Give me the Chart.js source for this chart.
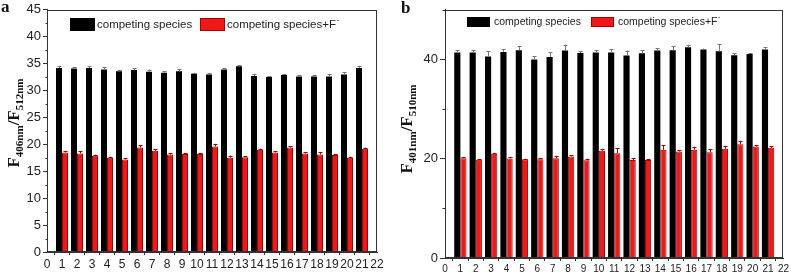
<!DOCTYPE html>
<html>
<head>
<meta charset="utf-8">
<script src="https://cdn.jsdelivr.net/npm/chart.js@4.4.0/dist/chart.umd.min.js"></script>
<style>
  html, body { margin: 0; padding: 0; background: #fff; }
  #wrap { position: relative; width: 791px; height: 275px; }
  canvas { position: absolute; top: 0; }
  #chartA { left: 0; }
  #chartB { left: 390px; }
</style>
</head>
<body>
<div id="wrap">
  <canvas id="chartA" width="390" height="275"></canvas>
  <canvas id="chartB" width="401" height="275"></canvas>
</div>
<script>
const species = [1, 2, 3, 4, 5, 6, 7, 8, 9, 10, 11, 12, 13, 14, 15, 16, 17, 18, 19, 20, 21];
const seriesLabels = ['competing species', 'competing species+F⁻'];

// panel a: F406nm/F512nm
const aSpecies = [34.2, 34.1, 34.2, 33.9, 33.6, 33.8, 33.5, 33.3, 33.6, 33.1, 33.0, 33.9, 34.5, 32.7, 32.5, 32.9, 32.6, 32.6, 32.6, 33.0, 34.2];
const aSpeciesErr = [0.4, 0.3, 0.3, 0.4, 0.2, 0.3, 0.4, 0.3, 0.4, 0.2, 0.2, 0.3, 0.2, 0.4, 0.2, 0.2, 0.3, 0.3, 0.4, 0.4, 0.4];
const aWithF = [18.5, 18.3, 17.9, 17.5, 17.2, 19.4, 18.8, 18.1, 18.2, 18.2, 19.6, 17.5, 17.6, 19.0, 18.5, 19.4, 18.3, 18.1, 18.0, 17.5, 19.2];
const aWithFErr = [0.3, 0.4, 0.2, 0.2, 0.2, 0.4, 0.3, 0.3, 0.2, 0.2, 0.5, 0.4, 0.2, 0.2, 0.2, 0.3, 0.3, 0.4, 0.2, 0.2, 0.2];

// panel b: F401nm/F510nm
const bSpecies = [41.4, 41.4, 40.6, 41.5, 41.85, 40.0, 40.5, 41.8, 41.3, 41.4, 41.4, 40.8, 41.25, 41.8, 41.85, 42.45, 42.0, 41.65, 40.85, 41.1, 42.0];
const bSpeciesErr = [0.5, 0.5, 1.0, 0.6, 0.9, 0.6, 0.9, 1.2, 0.3, 0.45, 0.65, 1.0, 0.6, 0.5, 0.8, 0.5, 0.2, 1.4, 0.4, 0.2, 0.5];
const bWithF = [20.1, 19.8, 21.0, 20.05, 19.9, 19.9, 20.1, 20.45, 19.7, 21.6, 21.1, 19.75, 19.75, 21.8, 21.45, 21.8, 21.3, 22.0, 22.9, 22.45, 22.2];
const bWithFErr = [0.2, 0.1, 0.2, 0.2, 0.1, 0.2, 0.5, 0.3, 0.3, 0.4, 1.0, 0.4, 0.2, 0.9, 0.3, 0.6, 0.6, 0.6, 0.7, 0.3, 0.3];

// axis titles: big / subscript / big / subscript
const aTitleParts = ['F', '406nm', '/F', '512nm'];
const bTitleParts = ['F', '401nm', '/F', '510nm'];

const AXIS = '#333';

function drawRotTitle(ctx, x, cy, parts, bigFont, subFont, subShift) {
  ctx.save();
  ctx.translate(x, cy);
  ctx.rotate(-Math.PI / 2);
  ctx.fillStyle = '#111';
  ctx.textAlign = 'left';
  ctx.textBaseline = 'alphabetic';
  let total = 0;
  const widths = parts.map((t, i) => {
    ctx.font = i % 2 ? subFont : bigFont;
    const w = ctx.measureText(t).width;
    total += w;
    return w;
  });
  let px = -total / 2;
  parts.forEach((t, i) => {
    ctx.font = i % 2 ? subFont : bigFont;
    ctx.fillText(t, px, i % 2 ? subShift : 0);
    px += widths[i];
  });
  ctx.restore();
}

const decor = {
  id: 'decor',
  afterDatasetsDraw(chart, args, opts) {
    const ctx = chart.ctx;
    const y = chart.scales.y;
    ctx.save();
    ctx.lineWidth = 1;
    chart.data.datasets.forEach((ds, di) => {
      const meta = chart.getDatasetMeta(di);
      ctx.strokeStyle = ds.errorColor;
      meta.data.forEach((bar, i) => {
        const v = ds.data[i].y;
        const top = y.getPixelForValue(v + ds.errors[i]);
        const x = Math.round(bar.x) + 0.5;
        ctx.beginPath();
        ctx.moveTo(x, bar.y);
        ctx.lineTo(x, top);
        ctx.moveTo(x - 2, Math.round(top) + 0.5);
        ctx.lineTo(x + 2, Math.round(top) + 0.5);
        ctx.stroke();
      });
    });
    ctx.restore();
  },
  afterDraw(chart, args, opts) {
    const ctx = chart.ctx;
    const a = chart.chartArea;
    const y = chart.scales.y;
    ctx.save();
    // frame
    ctx.strokeStyle = AXIS;
    ctx.lineWidth = 1;
    const L = Math.round(a.left) + 0.5, R = Math.round(a.right) - 0.5;
    const T = Math.round(a.top) + 0.5, B = Math.round(a.bottom) - 0.5;
    ctx.strokeRect(L, T, R - L, B - T);
    // minor y ticks
    ctx.beginPath();
    for (let v = opts.minorStep; v <= y.max + 1e-6; v += opts.minorStep) {
      const r = v / opts.majorStep;
      if (Math.abs(r - Math.round(r)) < 1e-6) continue;
      const py = Math.round(y.getPixelForValue(v)) + 0.5;
      ctx.moveTo(L - opts.minorLen, py);
      ctx.lineTo(L, py);
    }
    ctx.stroke();
    // legend inside plot
    ctx.textBaseline = 'middle';
    ctx.textAlign = 'left';
    chart.data.datasets.forEach((ds, i) => {
      const it = opts.legend.items[i];
      ctx.fillStyle = ds.backgroundColor;
      ctx.fillRect(it.x, opts.legend.y, opts.legend.w, opts.legend.h);
      if (ds.borderWidth) {
        ctx.strokeStyle = ds.borderColor;
        ctx.strokeRect(it.x + 0.5, opts.legend.y + 0.5, opts.legend.w - 1, opts.legend.h - 1);
      }
      ctx.fillStyle = '#222';
      ctx.font = opts.legend.font;
      const ty = opts.legend.y + opts.legend.h / 2 + 0.5;
      const parts = ds.label.split('⁻');
      ctx.fillText(parts[0], it.tx, ty);
      if (parts.length > 1) {
        const w = ctx.measureText(parts[0]).width;
        ctx.font = opts.legend.supFont;
        ctx.fillText('-', it.tx + w + 0.5, ty - 5);
      }
    });
    // y title with subscripts
    drawRotTitle(ctx, opts.title.x, opts.title.y, opts.title.parts,
      'bold 17px "Liberation Serif"', 'bold 11px "Liberation Serif"', 4);
    // panel letter
    ctx.fillStyle = '#111';
    ctx.font = 'bold 17px "Liberation Serif"';
    ctx.textBaseline = 'alphabetic';
    ctx.fillText(opts.letter.t, opts.letter.x, opts.letter.y);
    ctx.restore();
  }
};

function makeChart(id, s1, e1, s2, e2, cfg) {
  const pts = arr => species.map((x, i) => ({ x: x, y: arr[i] }));
  return new Chart(document.getElementById(id), {
    type: 'bar',
    data: {
      datasets: [
        {
          label: seriesLabels[0],
          data: pts(s1),
          errors: e1,
          backgroundColor: '#000000',
          borderWidth: 0,
          errorColor: '#777',
          categoryPercentage: 0.8,
          barPercentage: 1.0
        },
        {
          label: seriesLabels[1],
          data: pts(s2),
          errors: e2,
          backgroundColor: '#f01818',
          borderColor: '#a30000',
          borderWidth: 1,
          errorColor: '#a30000',
          categoryPercentage: 0.8,
          barPercentage: 1.0
        }
      ]
    },
    options: {
      responsive: false,
      animation: false,
      layout: { padding: cfg.padding },
      plugins: {
        legend: { display: false },
        tooltip: { enabled: false },
        decor: cfg.decor
      },
      scales: {
        x: {
          type: 'linear',
          offset: false,
          min: 0,
          max: 22,
          afterFit: s => { s.height = cfg.xHeight; },
          afterBuildTicks: s => { s.ticks = species.concat([0, 22]).sort((p, q) => p - q).map(v => ({ value: v })); },
          grid: { display: true, drawOnChartArea: false, tickLength: 3, color: AXIS },
          border: { display: true, color: AXIS },
          ticks: {
            autoSkip: false,
            maxRotation: 0,
            padding: cfg.xPad,
            color: '#222',
            font: { family: '"Liberation Sans", Arial', size: cfg.xFont }
          }
        },
        y: {
          min: 0,
          max: cfg.yMax,
          afterFit: s => { s.width = cfg.yWidth; },
          afterBuildTicks: s => { s.ticks = s.ticks.filter(t => t.value % cfg.yStep === 0); },
          grid: { display: true, drawOnChartArea: false, tickLength: cfg.yTick, color: AXIS },
          border: { display: true, color: AXIS },
          ticks: {
            stepSize: cfg.yStep,
            padding: 2,
            color: '#222',
            font: { family: '"Liberation Sans", Arial', size: cfg.yFont }
          }
        }
      }
    },
    plugins: [decor]
  });
}

makeChart('chartA', aSpecies, aSpeciesErr, aWithF, aWithFErr, {
  padding: { left: 0, top: 8, right: 13, bottom: 0 },
  xHeight: 23, yWidth: 47, xPad: 2, xFont: 12, yFont: 13, yMax: 45, yStep: 5, yTick: 4,
  decor: {
    minorStep: 2.5, majorStep: 5, minorLen: 2,
    legend: { y: 18, w: 25, h: 13, font: '11.5px "Liberation Sans", Arial', supFont: '8px "Liberation Sans", Arial',
      items: [{ x: 70, tx: 97 }, { x: 200, tx: 227 }] },
    title: { x: 18.5, y: 123, parts: aTitleParts },
    letter: { t: 'a', x: 1, y: 12 }
  }
});

makeChart('chartB', bSpecies, bSpeciesErr, bWithF, bWithFErr, {
  padding: { left: 0, top: 6, right: 6, bottom: 0 },
  xHeight: 17, yWidth: 55, xPad: 2, xFont: 10, yFont: 13, yMax: 50, yStep: 20, yTick: 5,
  decor: {
    minorStep: 10, majorStep: 20, minorLen: 3,
    legend: { y: 17, w: 23, h: 10, font: '10.5px "Liberation Sans", Arial', supFont: '7px "Liberation Sans", Arial',
      items: [{ x: 77, tx: 104 }, { x: 201, tx: 228 }] },
    title: { x: 22, y: 129, parts: bTitleParts },
    letter: { t: 'b', x: 11, y: 13 }
  }
});
</script>
</body>
</html>
